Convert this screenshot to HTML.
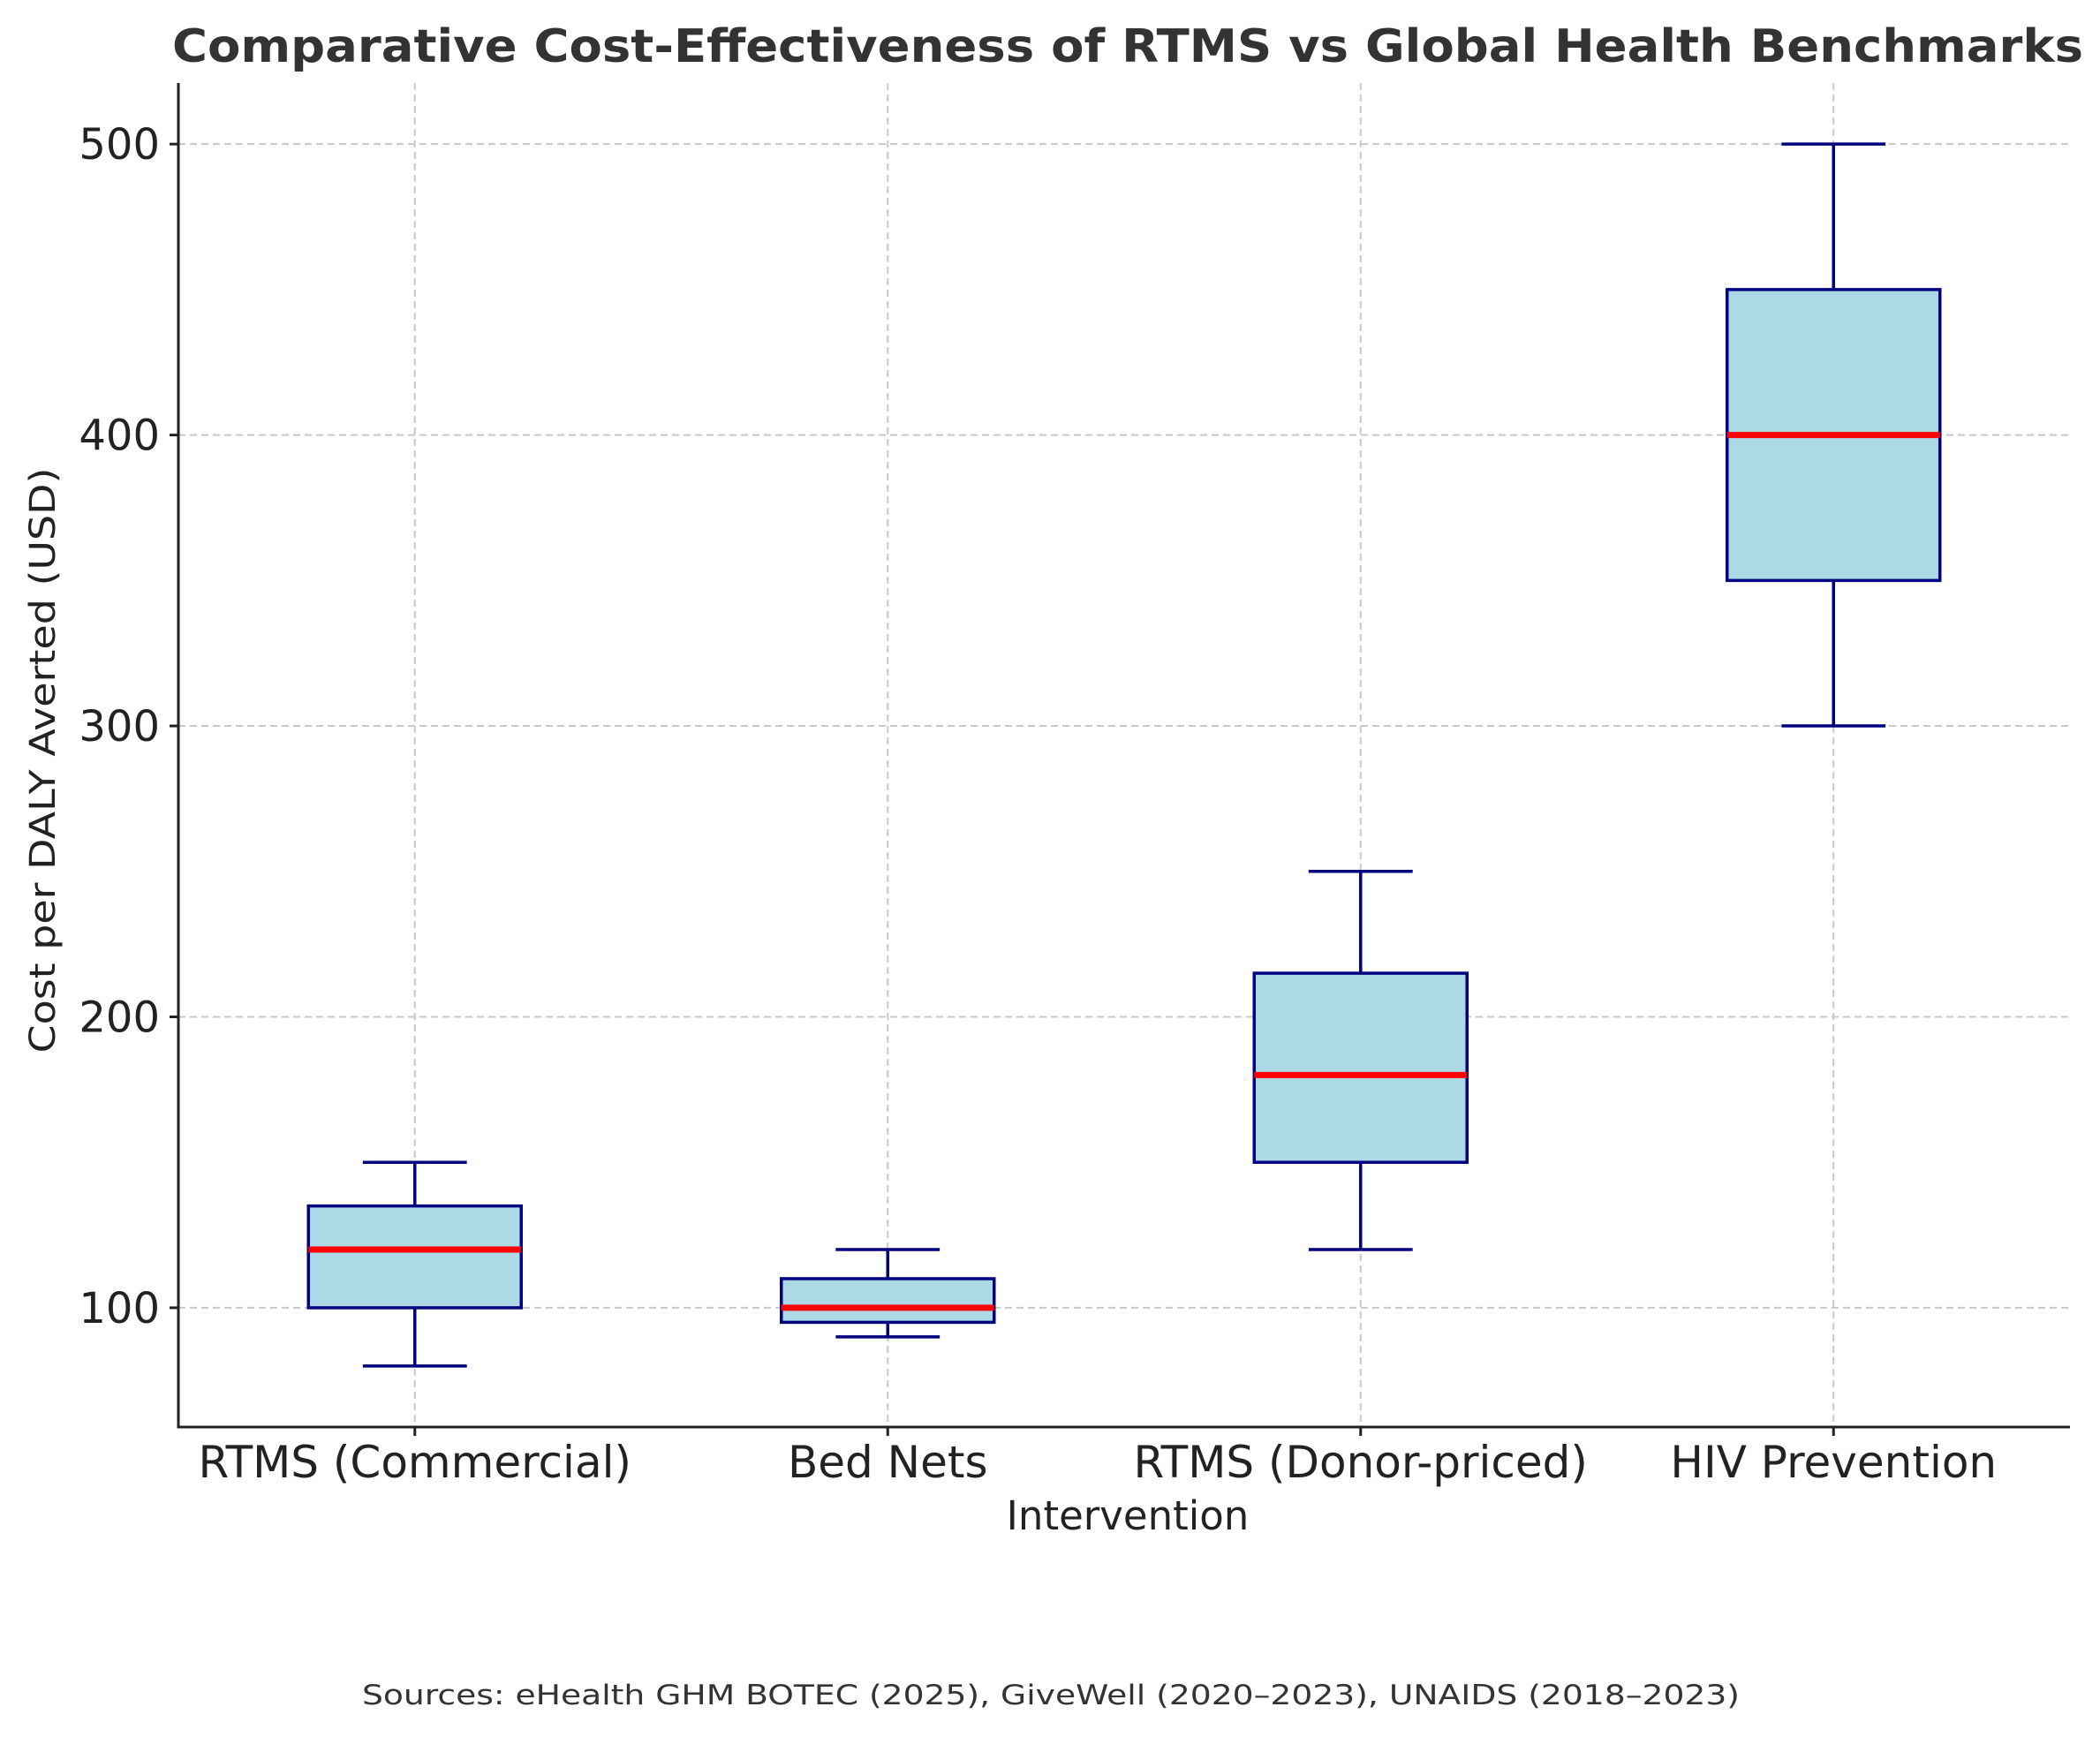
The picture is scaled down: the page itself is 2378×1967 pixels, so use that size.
<!DOCTYPE html>
<html><head><meta charset="utf-8"><style>
html,body{margin:0;padding:0;background:#fff;}
svg{display:block;font-family:"DejaVu Sans","Liberation Sans",sans-serif;}
</style></head><body>
<svg id="chart" width="2378" height="1967" viewBox="0 0 2378 1967" xmlns="http://www.w3.org/2000/svg">
<text x="1277" y="70" text-anchor="middle" font-size="52" font-weight="bold" fill="#333" textLength="2164" lengthAdjust="spacingAndGlyphs">Comparative Cost-Effectiveness of RTMS vs Global Health Benchmarks</text>
<g id="grid"></g>
<g id="boxes"></g>
<g id="axes"></g>
<text x="1277" y="1732" text-anchor="middle" font-size="45" fill="#222">Intervention</text>
<text transform="translate(62,861) rotate(-90)" text-anchor="middle" font-size="40" fill="#222" textLength="663" lengthAdjust="spacingAndGlyphs">Cost per DALY Averted (USD)</text>
<text x="1190" y="1930" text-anchor="middle" font-size="31" fill="#333" textLength="1560" lengthAdjust="spacingAndGlyphs">Sources: eHealth GHM BOTEC (2025), GiveWell (2020–2023), UNAIDS (2018–2023)</text>
</svg>
<script>
const categories = ["RTMS (Commercial)", "Bed Nets", "RTMS (Donor-priced)", "HIV Prevention"];
const whiskerLow = [80, 90, 120, 300];
const q1 = [100, 95, 150, 350];
const medians = [120, 100, 180, 400];
const q3 = [135, 110, 215, 450];
const whiskerHigh = [150, 120, 250, 500];
const yTicks = [100, 200, 300, 400, 500];

const NS = "http://www.w3.org/2000/svg";
const L = 202, R = 2344, T = 94, B = 1616;
const yMin = 59, yMax = 521;
function xs(i){ return L + (i + 0.5) * (R - L) / categories.length; }
function ys(v){ return B - (v - yMin) / (yMax - yMin) * (B - T); }
function mk(tag, attrs, parent){ const e = document.createElementNS(NS, tag); for (const k in attrs) e.setAttribute(k, attrs[k]); parent.appendChild(e); return e; }
const unit = (R - L) / categories.length;
const grid = document.getElementById('grid'), boxes = document.getElementById('boxes'), axes = document.getElementById('axes');

yTicks.forEach(function(v){
  const g = mk('line', {x1:L, x2:R, y1:ys(v), y2:ys(v), stroke:'#c8c8c8', 'stroke-width':2, 'stroke-dasharray':'8,5'}, grid);
  
  
  const t = mk('line', {x1:L-10, x2:L, y1:ys(v), y2:ys(v), stroke:'#222', 'stroke-width':3}, axes);
  
  
  const lb = mk('text', {x:L-21, y:ys(v)+17, 'text-anchor':'end', 'font-size':48, fill:'#222'}, axes);
  lb.textContent = v;
  
  
});
categories.forEach(function(c, i){
  const x = xs(i);
  const g = mk('line', {x1:x, x2:x, y1:T, y2:B, stroke:'#c8c8c8', 'stroke-width':2, 'stroke-dasharray':'8,5'}, grid);
  
  
  const t = mk('line', {x1:x, x2:x, y1:B, y2:B+10, stroke:'#222', 'stroke-width':3}, axes);
  
  
  const lb = mk('text', {x:x, y:1673, 'text-anchor':'middle', 'font-size':50, fill:'#222'}, axes);
  lb.textContent = c;
  
  

  const bw = unit * 0.45, cw = unit * 0.22;
  const grp = mk('g', {}, boxes);
  
  
  mk('line', {x1:x, x2:x, y1:ys(whiskerLow[i]), y2:ys(q1[i]), stroke:'#000080', 'stroke-width':3.5}, grp);
  mk('line', {x1:x, x2:x, y1:ys(q3[i]), y2:ys(whiskerHigh[i]), stroke:'#000080', 'stroke-width':3.5}, grp);
  mk('line', {x1:x-cw/2, x2:x+cw/2, y1:ys(whiskerLow[i]), y2:ys(whiskerLow[i]), stroke:'#000080', 'stroke-width':3.5}, grp);
  mk('line', {x1:x-cw/2, x2:x+cw/2, y1:ys(whiskerHigh[i]), y2:ys(whiskerHigh[i]), stroke:'#000080', 'stroke-width':3.5}, grp);
  mk('rect', {x:x-bw/2, y:ys(q3[i]), width:bw, height:ys(q1[i])-ys(q3[i]), fill:'#add8e6', stroke:'#000080', 'stroke-width':3.5}, grp);
  mk('line', {x1:x-bw/2, x2:x+bw/2, y1:ys(medians[i]), y2:ys(medians[i]), stroke:'#ff0000', 'stroke-width':7}, grp);
});
mk('line', {x1:L, x2:L, y1:T, y2:B+1.5, stroke:'#222', 'stroke-width':3}, axes);
mk('line', {x1:L-1.5, x2:R, y1:B, y2:B, stroke:'#222', 'stroke-width':3}, axes);
</script>
</body></html>
